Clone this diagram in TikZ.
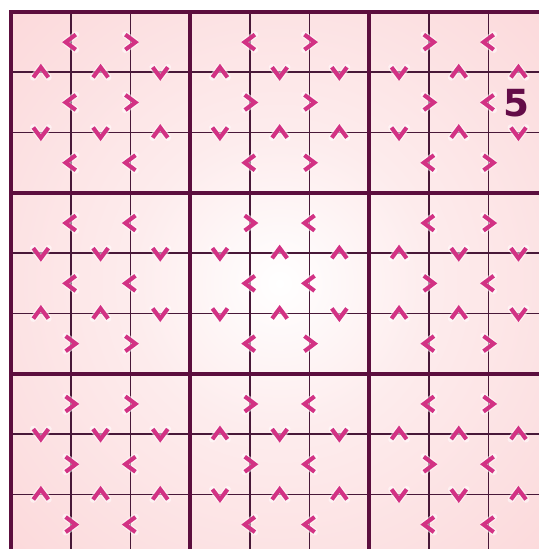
\documentclass[tikz,border=0pt]{standalone}
\usepackage{fontspec}
\usepackage{tikz}
\usetikzlibrary{calc}
\newfontfamily\givenfont{DejaVu Sans}
\definecolor{gridplum}{RGB}{92,14,62}
\definecolor{thinplum}{RGB}{72,24,56}
\definecolor{boardpink}{RGB}{251,212,214}
\definecolor{chevpink}{RGB}{210,50,132}
\definecolor{givencol}{RGB}{100,12,72}
\pgfdeclareradialshading{boardglow}{\pgfpoint{0bp}{0bp}}{%
  color(0bp)=(white); color(14bp)=(boardpink!45!white);
  color(34bp)=(boardpink!85!white); color(55bp)=(boardpink); color(75bp)=(boardpink)}
\tikzset{
  thinline/.style={draw=thinplum,line width=1.3pt},
  boxline/.style={draw=gridplum,line width=3pt},
  chevglow/.style={draw=white,line width=5pt,opacity=.55,line join=round,line cap=round},
  chevline/.style={draw=chevpink,line width=3.1pt,line join=miter,line cap=butt},
  chev/.pic={
    \draw[chevglow] (0.085,-0.125) -- (-0.085,0) -- (0.085,0.125);
    \draw[chevline] (0.085,-0.125) -- (-0.085,0) -- (0.085,0.125);
  },
  cmpL/.style={},
  cmpG/.style={rotate=180},
  cmpU/.style={rotate=-90},
  cmpD/.style={rotate=90},
  given/.style={font=\givenfont\bfseries\fontsize{28}{28}\selectfont,
                text=givencol,inner sep=0pt},
}

\begin{document}
\begin{tikzpicture}[x=44.775pt,y=-45.225pt]
  \useasboundingbox (-0.1843,-0.199) rectangle (8.8275,8.9055);
  \fill[white] (-0.1843,-0.199) rectangle (8.8275,8.9055);
  \shade[shading=boardglow] (0,0) rectangle (9,9);
  % cell and box lines
  \foreach \i in {1,2,4,5,7,8}{
    \draw[thinline] (\i,0) -- (\i,9);
    \draw[thinline] (0,\i) -- (9,\i);
  }
  \foreach \i in {3,6}{
    \draw[boxline] (\i,0) -- (\i,9);
    \draw[boxline] (0,\i) -- (9,\i);
  }
  \draw[boxline] (0,0) rectangle (9,9);
  % comparisons inside each row
  \foreach \r/\marks in {1/{L,G,L,G,G,L},2/{L,G,G,G,G,L},3/{L,L,L,G,L,G},
      4/{L,L,G,L,L,G},5/{L,L,L,L,G,L},6/{G,G,L,G,L,G},
      7/{G,G,G,L,L,G},8/{G,L,G,L,G,L},9/{G,L,L,L,L,L}}{
    \foreach \m [count=\k] in \marks{
      \pgfmathtruncatemacro\c{\k+int((\k-1)/2)}
      \pic[cmp\m] at (\c,\r-0.5) {chev};
    }
  }
  % comparisons inside each column
  \foreach \r/\marks in {1/{U,U,D,U,D,D,D,U,U},2/{D,D,U,D,U,U,D,U,D},
      4/{D,D,D,D,U,U,U,D,D},5/{U,U,D,D,U,D,U,U,D},
      7/{D,D,D,U,D,D,U,U,U},8/{U,U,U,D,U,U,D,D,U}}{
    \foreach \m [count=\c] in \marks
      \pic[cmp\m] at (\c-0.5,\r) {chev};
  }
  % given digit
  \node[given] (r2c9) at (8.47,1.52) {5};
\end{tikzpicture}
\end{document}
